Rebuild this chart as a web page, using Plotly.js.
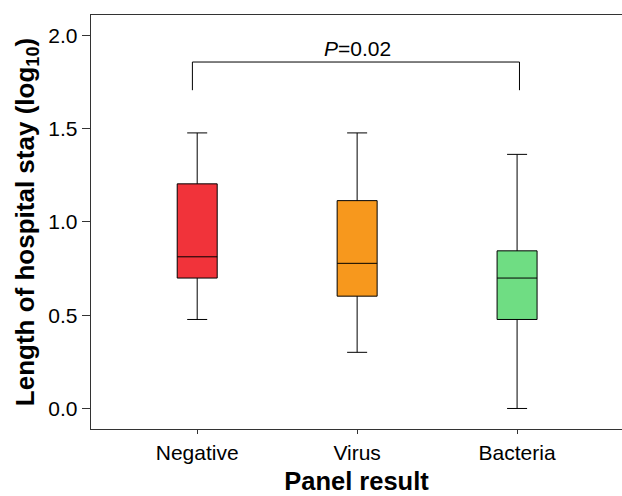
<!DOCTYPE html>
<html>
<head>
<meta charset="utf-8">
<script src="https://cdn.plot.ly/plotly-3.0.1.min.js"></script>
<style>html,body{margin:0;padding:0;background:#fff;}#chart{width:622px;height:496px;}</style>
</head>
<body>
<div id="chart"></div>
<script>
// Data (log10 length of hospital stay)
const categories = ['Negative', 'Virus', 'Bacteria'];
const lowerWhisker = [0.477, 0.301, 0.000];
const q1Values     = [0.699, 0.602, 0.477];
const medianValues = [0.813, 0.778, 0.699];
const q3Values     = [1.204, 1.114, 0.845];
const upperWhisker = [1.477, 1.477, 1.362];
const boxColors    = ['#F1333A', '#F7981D', '#6FDD83'];
const yTickVals    = [0, 0.5, 1.0, 1.5, 2.0];
const yTickText    = ['0.0', '0.5', '1.0', '1.5', '2.0'];
const pLabel       = '<i>P</i>=0.02';
const bracketX     = [-0.03, 2.015];
const bracketY     = [1.706, 1.857];

const FONT = 'Liberation Sans, Arial, sans-serif';

const traces = categories.map((c, i) => ({
  type: 'box',
  x: [c],
  q1: [q1Values[i]],
  median: [medianValues[i]],
  q3: [q3Values[i]],
  lowerfence: [lowerWhisker[i]],
  upperfence: [upperWhisker[i]],
  width: 0.25,
  whiskerwidth: 0.5,
  fillcolor: boxColors[i],
  line: {color: '#000', width: 1},
  showlegend: false,
  hoverinfo: 'skip'
}));

const layout = {
  width: 622, height: 496,
  margin: {l: 91, r: 0, t: 15, b: 67},
  paper_bgcolor: '#fff', plot_bgcolor: '#fff',
  font: {family: FONT, size: 21, color: '#000'},
  showlegend: false,
  xaxis: {
    type: 'category',
    categoryarray: categories,
    range: [-0.664, 2.656],
    showgrid: false, zeroline: false,
    showline: true, linecolor: '#333', linewidth: 1.3, mirror: true,
    ticks: 'outside', ticklen: 4, tickcolor: '#333', tickwidth: 1,
    tickfont: {family: FONT, size: 21, color: '#000'},
    title: {text: '<b>Panel result</b>', font: {family: FONT, size: 25.5, color: '#000'}, standoff: 9}
  },
  yaxis: {
    range: [-0.110, 2.109],
    tickvals: yTickVals, ticktext: yTickText,
    showgrid: false, zeroline: false,
    showline: true, linecolor: '#333', linewidth: 1.3, mirror: false,
    ticks: 'outside', ticklen: 8, tickcolor: '#333', tickwidth: 1,
    tickfont: {family: FONT, size: 21, color: '#000'},
    title: {text: '<b>Length of hospital stay (log<sub>10</sub>)</b>', font: {family: FONT, size: 26, color: '#000'}, standoff: 6}
  },
  shapes: [
    {type: 'line', xref: 'x', yref: 'y', x0: bracketX[0], x1: bracketX[0], y0: bracketY[0], y1: bracketY[1], line: {color: '#000', width: 1}},
    {type: 'line', xref: 'x', yref: 'y', x0: bracketX[0], x1: bracketX[1], y0: bracketY[1], y1: bracketY[1], line: {color: '#000', width: 1}},
    {type: 'line', xref: 'x', yref: 'y', x0: bracketX[1], x1: bracketX[1], y0: bracketY[0], y1: bracketY[1], line: {color: '#000', width: 1}}
  ],
  annotations: [
    {x: 1, y: bracketY[1], xref: 'x', yref: 'y', text: pLabel, showarrow: false,
     xanchor: 'center', yanchor: 'bottom', yshift: 0,
     font: {family: FONT, size: 21, color: '#000'}}
  ]
};

Plotly.newPlot('chart', traces, layout, {displayModeBar: false, staticPlot: true});
</script>
</body>
</html>
